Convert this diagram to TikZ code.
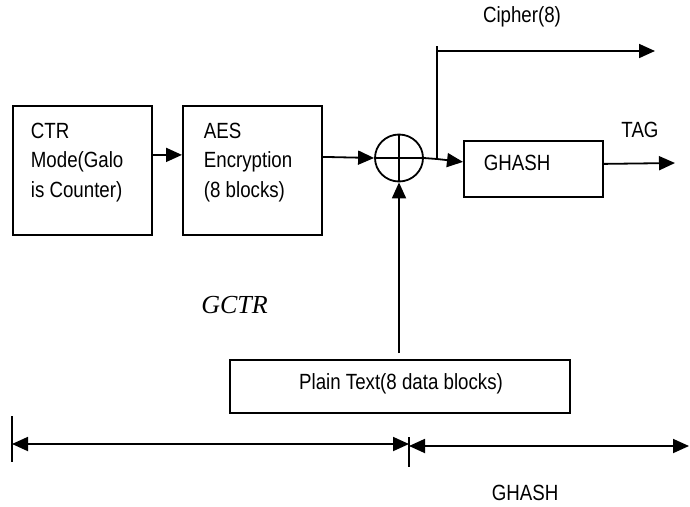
\documentclass[tikz,border=0pt]{standalone}
\usepackage{fontspec}
\setmainfont{Liberation Sans}[FakeStretch=0.85]
\newfontfamily\gcfont{Liberation Serif}
\usetikzlibrary{arrows.meta,shapes.geometric}
\begin{document}
\begin{tikzpicture}[x=1pt,y=-1pt,line width=1.8pt,
  tip/.style={-{Triangle[length=16pt,width=14pt]}},
  both/.style={{Triangle[length=16pt,width=14pt]}-{Triangle[length=16pt,width=14pt]}},
  blk/.style={draw,line width=1.8pt,inner sep=0pt,anchor=north west},
  txt/.style={font=\fontsize{22}{29.5}\selectfont,inner sep=0pt,align=left},
  lbl/.style={font=\fontsize{22}{26}\selectfont,inner sep=0pt}]
\useasboundingbox (0,0) rectangle (690,506);
% blocks
\node[blk,minimum width=139pt,minimum height=129pt] (ctr) at (12,105) {};
\node[blk,minimum width=139pt,minimum height=129pt] (aes) at (182,105) {};
\node[blk,minimum width=139pt,minimum height=56pt] (gh) at (463,140) {};
\node[blk,minimum width=340pt,minimum height=53pt] (pt) at (229,359) {};
\node[draw,ellipse,line width=1.8pt,inner sep=0pt,minimum width=48pt,minimum height=47pt] (xor) at (399,158) {};
\draw (xor.north) -- (xor.south) (xor.west) -- (xor.east);
% block texts
\node[txt,anchor=north west] (ctrt) at (30,122) {CTR\\Mode(Galo\\is Counter)};
\node[txt,anchor=north west] (aest) at (203,122) {AES\\Encryption\\(8 blocks)};
\node[txt,anchor=west] (ght) at (483,163) {GHASH};
\node[txt,anchor=center] (ptt) at (401,384) {Plain Text(8 data blocks)};
% labels
\node[lbl] (cip) at (522,17) {Cipher(8)};
\node[lbl] (tag) at (640,130) {TAG};
\node[font=\gcfont\itshape\fontsize{26}{30}\selectfont,inner sep=0pt] (gctr) at (234.5,305) {GCTR};
\node[lbl] (ghl) at (525,493) {GHASH};
% coordinates
\coordinate (br) at (437,159);
\coordinate (brtop) at (437,46);
\coordinate (cst) at (437,51);
\coordinate (cend) at (655,51);
\coordinate (tagend) at (675,163);
\coordinate (ptop) at (399,353);
\coordinate (t1a) at (12,416);
\coordinate (t1b) at (12,462);
\coordinate (t2a) at (409,437);
\coordinate (t2b) at (409,467);
\coordinate (l1) at (12,444);
\coordinate (l2) at (409,444);
\coordinate (r1) at (409,446);
\coordinate (r2) at (689,446);
% connectors
\draw[tip] ([yshift=15.5pt]ctr.east) -- ([yshift=15.5pt]aes.west);
\draw[tip] ([yshift=13.5pt]aes.east) -- (xor.west);
\draw (xor.east) -- (br);
\draw[tip] (br) -- ([yshift=7pt]gh.west);
\draw (br) -- (brtop);
\draw[tip] (cst) -- (cend);
\draw[tip] ([yshift=5pt]gh.east) -- (tagend);
\draw[tip] (ptop) -- (xor.south);
% bottom dimension arrows
\draw (t1a) -- (t1b);
\draw (t2a) -- (t2b);
\draw[both] (l1) -- (l2);
\draw[both] (r1) -- (r2);
\end{tikzpicture}
\end{document}
